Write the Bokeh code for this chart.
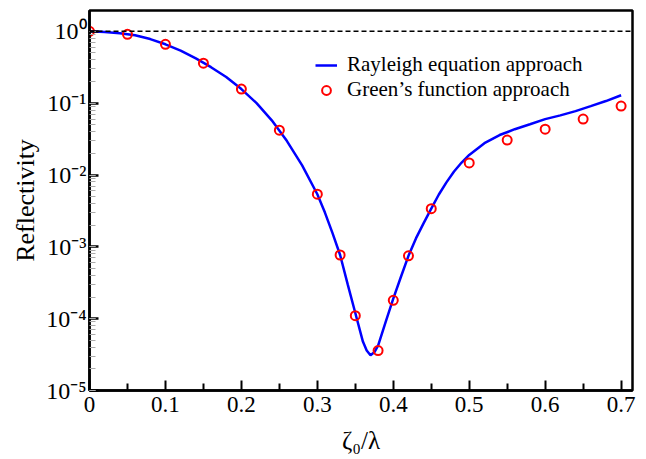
from bokeh.plotting import figure
from bokeh.models import (Span, Legend, LegendItem, LogTicker, FixedTicker, Range1d,
                          CustomJSTickFormatter)
from bokeh.embed import file_html
from bokeh.resources import INLINE

# Rayleigh equation approach (solid line)
line_x = [0.0, 0.02, 0.04, 0.06, 0.08, 0.10, 0.12, 0.14, 0.16, 0.18, 0.20, 0.22, 0.24,
          0.26, 0.28, 0.30, 0.31, 0.32, 0.33, 0.34, 0.35, 0.36, 0.365, 0.37, 0.375,
          0.38, 0.39, 0.40, 0.41, 0.42, 0.43, 0.44, 0.45, 0.46, 0.47, 0.48, 0.49, 0.50,
          0.52, 0.54, 0.56, 0.58, 0.60, 0.62, 0.64, 0.66, 0.68, 0.70]
line_y = [1.0, 0.98, 0.94, 0.88, 0.78, 0.66, 0.54, 0.42, 0.317, 0.231, 0.157, 0.100, 0.0577,
          0.0297, 0.0136, 0.0054, 0.0030, 0.00155, 7.7e-4, 3.0e-4, 1.2e-4, 4.8e-5, 3.6e-5,
          3.1e-5, 3.4e-5, 4.2e-5, 9.0e-5, 1.9e-4, 3.8e-4, 7.5e-4, 1.32e-3, 2.14e-3,
          3.4e-3, 5.35e-3, 7.9e-3, 0.0112, 0.0149, 0.019, 0.0277, 0.036, 0.0434, 0.0509,
          0.060, 0.0676, 0.0776, 0.091, 0.107, 0.129]

# Green's function approach (circles)
pts_x = [0.0, 0.05, 0.10, 0.15, 0.20, 0.25, 0.30, 0.33, 0.35, 0.38, 0.40, 0.42, 0.45,
         0.50, 0.55, 0.60, 0.65, 0.70]
pts_y = [1.0, 0.91, 0.66, 0.36, 0.157, 0.042, 0.0054, 7.7e-4, 1.1e-4, 3.6e-5, 1.8e-4,
         7.5e-4, 3.4e-3, 0.0147, 0.0306, 0.0435, 0.060, 0.091]

x_ticks = [0.0, 0.1, 0.2, 0.3, 0.4, 0.5, 0.6, 0.7]
x_minor = [0.05, 0.15, 0.25, 0.35, 0.45, 0.55, 0.65]

FONT = "Liberation Serif"

p = figure(width=646, height=459, y_axis_type="log", output_backend="svg",
           toolbar_location=None,
           x_range=Range1d(0, 0.715), y_range=Range1d(1e-5, 1.95),
           min_border_left=89, min_border_right=14, min_border_top=10, min_border_bottom=69)

p.grid.visible = False
p.outline_line_color = "black"
p.outline_line_width = 2.5
p.outline_line_alpha = 1.0
p.background_fill_color = "white"
p.border_fill_color = "white"

p.add_layout(Span(location=1.0, dimension="width", line_color="black",
                  line_dash="5 3", line_width=1.5))

r_line = p.line(line_x, line_y, line_color="#0000ff", line_width=2.5)
r_pts = p.scatter(pts_x, pts_y, marker="circle", size=9, fill_color=None,
                  line_color="#ff0000", line_width=2)

xa = p.xaxis[0]
xa.ticker = FixedTicker(ticks=x_ticks, minor_ticks=x_minor)
xa.major_label_overrides = {0.0: "0"}
xa.axis_line_color = "black"
xa.axis_line_width = 2.5
xa.major_tick_line_color = "black"
xa.minor_tick_line_color = "black"
xa.major_tick_in = 10
xa.major_tick_out = 0
xa.minor_tick_in = 7
xa.minor_tick_out = 0
xa.major_tick_line_width = 2
xa.minor_tick_line_width = 2
xa.major_label_text_font = FONT
xa.major_label_text_font_size = "23px"
xa.major_label_text_color = "black"
xa.major_label_standoff = 6
xa.axis_label = "ζ₀/λ"
xa.axis_label_text_font = FONT
xa.axis_label_text_font_size = "25px"
xa.axis_label_text_font_style = "normal"
xa.axis_label_text_color = "black"
xa.axis_label_standoff = 12

ya = p.yaxis[0]
ya.ticker = LogTicker(num_minor_ticks=10)
ya.formatter = CustomJSTickFormatter(code="""
const e = Math.round(Math.log10(tick));
const sup = {"0":"\u2070","1":"\u00b9","2":"\u00b2","3":"\u00b3","4":"\u2074",
             "5":"\u2075","6":"\u2076","7":"\u2077","8":"\u2078","9":"\u2079","-":"\u207b"};
return "10" + String(e).split("").map(c => sup[c]).join("");
""")
ya.axis_line_color = "black"
ya.axis_line_width = 2.5
ya.major_tick_line_color = "black"
ya.major_tick_in = 9
ya.major_tick_out = 0
ya.minor_tick_in = 6
ya.minor_tick_out = 0
ya.major_tick_line_width = 2.5
ya.minor_tick_line_color = "#aaaaaa"
ya.minor_tick_line_width = 1
ya.major_label_text_font = FONT
ya.major_label_text_font_size = "24px"
ya.major_label_text_color = "black"
ya.major_label_standoff = 3
ya.axis_label = "Reflectivity"
ya.axis_label_text_font = FONT
ya.axis_label_text_font_size = "26px"
ya.axis_label_text_font_style = "normal"
ya.axis_label_text_color = "black"
ya.axis_label_standoff = 3

legend = Legend(items=[LegendItem(label="Rayleigh equation approach", renderers=[r_line]),
                       LegendItem(label="Green\u2019s function approach", renderers=[r_pts])],
                location=(226, 288), border_line_color=None, background_fill_alpha=0,
                label_text_font=FONT, label_text_font_size="21px", glyph_width=22,
                glyph_height=22, label_height=22, spacing=0, padding=0, margin=0,
                label_standoff=10, label_text_color="black")
p.add_layout(legend)

open("out.html", "w").write(file_html(p, INLINE))
